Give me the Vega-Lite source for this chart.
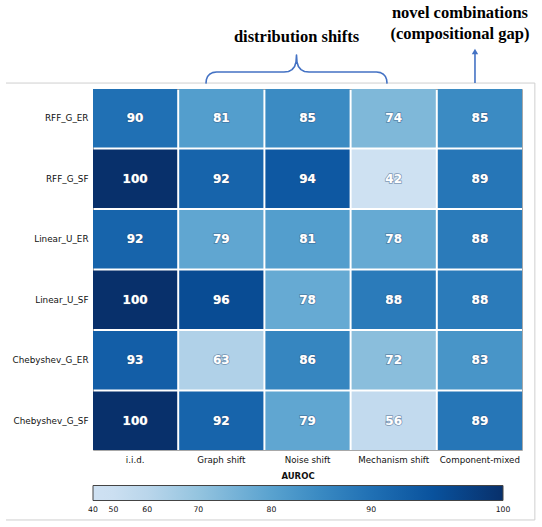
{
  "$schema": "https://vega.github.io/schema/vega-lite/v6.json",
  "width": 429,
  "height": 361,
  "autosize": {"type": "none"},
  "padding": {"left": 93, "top": 89, "right": 20, "bottom": 77},
  "background": "white",
  "config": {"view": {"stroke": "#a8a8a8", "strokeWidth": 1}},
  "datasets": {
    "cells": [
      {"dataset": "RFF_G_ER", "shift": "i.i.d.", "auroc": 90},
      {"dataset": "RFF_G_ER", "shift": "Graph shift", "auroc": 81},
      {"dataset": "RFF_G_ER", "shift": "Noise shift", "auroc": 85},
      {"dataset": "RFF_G_ER", "shift": "Mechanism shift", "auroc": 74},
      {"dataset": "RFF_G_ER", "shift": "Component-mixed", "auroc": 85},
      {"dataset": "RFF_G_SF", "shift": "i.i.d.", "auroc": 100},
      {"dataset": "RFF_G_SF", "shift": "Graph shift", "auroc": 92},
      {"dataset": "RFF_G_SF", "shift": "Noise shift", "auroc": 94},
      {"dataset": "RFF_G_SF", "shift": "Mechanism shift", "auroc": 42},
      {"dataset": "RFF_G_SF", "shift": "Component-mixed", "auroc": 89},
      {"dataset": "Linear_U_ER", "shift": "i.i.d.", "auroc": 92},
      {"dataset": "Linear_U_ER", "shift": "Graph shift", "auroc": 79},
      {"dataset": "Linear_U_ER", "shift": "Noise shift", "auroc": 81},
      {"dataset": "Linear_U_ER", "shift": "Mechanism shift", "auroc": 78},
      {"dataset": "Linear_U_ER", "shift": "Component-mixed", "auroc": 88},
      {"dataset": "Linear_U_SF", "shift": "i.i.d.", "auroc": 100},
      {"dataset": "Linear_U_SF", "shift": "Graph shift", "auroc": 96},
      {"dataset": "Linear_U_SF", "shift": "Noise shift", "auroc": 78},
      {"dataset": "Linear_U_SF", "shift": "Mechanism shift", "auroc": 88},
      {"dataset": "Linear_U_SF", "shift": "Component-mixed", "auroc": 88},
      {"dataset": "Chebyshev_G_ER", "shift": "i.i.d.", "auroc": 93},
      {"dataset": "Chebyshev_G_ER", "shift": "Graph shift", "auroc": 63},
      {"dataset": "Chebyshev_G_ER", "shift": "Noise shift", "auroc": 86},
      {"dataset": "Chebyshev_G_ER", "shift": "Mechanism shift", "auroc": 72},
      {"dataset": "Chebyshev_G_ER", "shift": "Component-mixed", "auroc": 83},
      {"dataset": "Chebyshev_G_SF", "shift": "i.i.d.", "auroc": 100},
      {"dataset": "Chebyshev_G_SF", "shift": "Graph shift", "auroc": 92},
      {"dataset": "Chebyshev_G_SF", "shift": "Noise shift", "auroc": 79},
      {"dataset": "Chebyshev_G_SF", "shift": "Mechanism shift", "auroc": 56},
      {"dataset": "Chebyshev_G_SF", "shift": "Component-mixed", "auroc": 89}
    ],
    "frame": [
      {"i": 0, "x": -1.014, "y": 6.099},
      {"i": 1, "x": 5.15, "y": 6.099},
      {"i": 2, "x": 5.15, "y": -1.163},
      {"i": 3, "x": -1.014, "y": -1.163}
    ],
    "brace": [
      {"i": 0, "x": 1.317, "y": 6.099},
      {"i": 1, "x": 1.3217, "y": 6.1576},
      {"i": 2, "x": 1.3357, "y": 6.2074},
      {"i": 3, "x": 1.359, "y": 6.2456},
      {"i": 4, "x": 1.3928, "y": 6.2722},
      {"i": 5, "x": 1.4394, "y": 6.2822},
      {"i": 6, "x": 2.2261, "y": 6.2822},
      {"i": 7, "x": 2.2786, "y": 6.2922},
      {"i": 8, "x": 2.3193, "y": 6.3221},
      {"i": 9, "x": 2.3497, "y": 6.3736},
      {"i": 10, "x": 2.366, "y": 6.4484},
      {"i": 11, "x": 2.3718, "y": 6.5647},
      {"i": 12, "x": 2.3776, "y": 6.4484},
      {"i": 13, "x": 2.3939, "y": 6.3736},
      {"i": 14, "x": 2.4242, "y": 6.3221},
      {"i": 15, "x": 2.465, "y": 6.2922},
      {"i": 16, "x": 2.5175, "y": 6.2822},
      {"i": 17, "x": 3.3042, "y": 6.2822},
      {"i": 18, "x": 3.3508, "y": 6.2722},
      {"i": 19, "x": 3.3846, "y": 6.2456},
      {"i": 20, "x": 3.4079, "y": 6.2074},
      {"i": 21, "x": 3.4219, "y": 6.1576},
      {"i": 22, "x": 3.4266, "y": 6.099}
    ],
    "arrow": [
      {"i": 0, "x": 4.452, "y": 6.099},
      {"i": 1, "x": 4.452, "y": 6.58}
    ],
    "arrowhead": [
      {"x": 4.452, "y": 6.623}
    ],
    "notes": [
      {"x": 2.372, "y": 6.773, "label": "distribution shifts"},
      {"x": 4.277, "y": 7.172, "label": "novel combinations"},
      {"x": 4.277, "y": 6.839, "label": "(compositional gap)"}
    ]
  },
  "layer": [
    {
      "data": {"name": "cells"},
      "encoding": {
        "x": {
          "field": "shift",
          "type": "nominal",
          "sort": ["i.i.d.", "Graph shift", "Noise shift", "Mechanism shift", "Component-mixed"],
          "scale": {"paddingInner": 0.023, "paddingOuter": 0},
          "axis": {
            "title": null,
            "orient": "bottom",
            "labelAngle": 0,
            "ticks": false,
            "domain": false,
            "labelPadding": 5,
            "labelFont": "DejaVu Sans",
            "labelFontSize": 8.7,
            "labelColor": "#111"
          }
        },
        "y": {
          "field": "dataset",
          "type": "nominal",
          "sort": ["RFF_G_ER", "RFF_G_SF", "Linear_U_ER", "Linear_U_SF", "Chebyshev_G_ER", "Chebyshev_G_SF"],
          "scale": {"paddingInner": 0.033, "paddingOuter": 0},
          "axis": {
            "title": null,
            "ticks": false,
            "domain": false,
            "labelPadding": 5,
            "labelFont": "DejaVu Sans",
            "labelFontSize": 8.8,
            "labelColor": "#111"
          }
        }
      },
      "layer": [
        {
          "mark": {"type": "rect"},
          "encoding": {
            "color": {
              "field": "auroc",
              "type": "quantitative",
              "scale": {
                "type": "pow",
                "exponent": 3.5,
                "domain": [40, 50, 60, 70, 80, 85, 90, 95, 100],
                "range": ["#cfe1f2", "#cbdff1", "#bad6eb", "#94c4df", "#59a2cf", "#3b8bc3", "#2070b4", "#09529d", "#08306b"],
                "interpolate": "rgb"
              },
              "legend": {
                "orient": "none",
                "legendX": 0,
                "legendY": 383,
                "direction": "horizontal",
                "gradientLength": 410,
                "gradientThickness": 15,
                "title": "AUROC",
                "titleOrient": "top",
                "titleAnchor": "middle",
                "titleFont": "DejaVu Sans",
                "titleFontSize": 8.5,
                "titleFontWeight": "bold",
                "titleColor": "#111",
                "titlePadding": 5,
                "labelFont": "DejaVu Sans",
                "labelFontSize": 7.7,
                "labelColor": "#111",
                "labelOffset": 5,
                "labelAlign": "center",
                "labelOverlap": false,
                "values": [40, 50, 60, 70, 80, 90, 100],
                "gradientStrokeColor": "#444",
                "gradientStrokeWidth": 1,
                "padding": 0,
                "encode": {"labels": {"update": {"align": {"value": "center"}}}}
              }
            }
          }
        },
        {
          "mark": {"type": "text", "font": "DejaVu Sans", "fontWeight": "bold", "fontSize": 12, "fill": "white", "stroke": "#2f4f77", "strokeWidth": 1.6, "strokeOpacity": 0.5},
          "encoding": {"text": {"field": "auroc", "type": "quantitative"}}
        },
        {
          "mark": {"type": "text", "font": "DejaVu Sans", "fontWeight": "bold", "fontSize": 12, "fill": "white"},
          "encoding": {"text": {"field": "auroc", "type": "quantitative"}}
        }
      ]
    },
    {
      "encoding": {
        "x": {"field": "x", "type": "quantitative", "scale": {"domain": [0, 5], "nice": false, "zero": false}, "axis": null},
        "y": {"field": "y", "type": "quantitative", "scale": {"domain": [0, 6], "nice": false, "zero": false}, "axis": null}
      },
      "layer": [
        {
          "data": {"name": "frame"},
          "mark": {"type": "line", "color": "#cfcfcf", "strokeWidth": 1},
          "encoding": {"order": {"field": "i", "type": "quantitative"}}
        },
        {
          "data": {"name": "brace"},
          "mark": {"type": "line", "color": "#4472c4", "strokeWidth": 1.6, "strokeJoin": "round", "strokeCap": "round"},
          "encoding": {"order": {"field": "i", "type": "quantitative"}}
        },
        {
          "data": {"name": "arrow"},
          "mark": {"type": "line", "color": "#4472c4", "strokeWidth": 1.6},
          "encoding": {"order": {"field": "i", "type": "quantitative"}}
        },
        {
          "data": {"name": "arrowhead"},
          "mark": {"type": "point", "shape": "triangle-up", "filled": true, "color": "#4472c4", "size": 40, "opacity": 1}
        },
        {
          "data": {"name": "notes"},
          "mark": {"type": "text", "font": "Liberation Serif", "fontWeight": "bold", "fontSize": 16.5, "color": "black", "align": "center", "baseline": "alphabetic"},
          "encoding": {"text": {"field": "label", "type": "nominal"}}
        }
      ]
    }
  ],
  "resolve": {"scale": {"x": "independent", "y": "independent", "color": "independent"}}
}
